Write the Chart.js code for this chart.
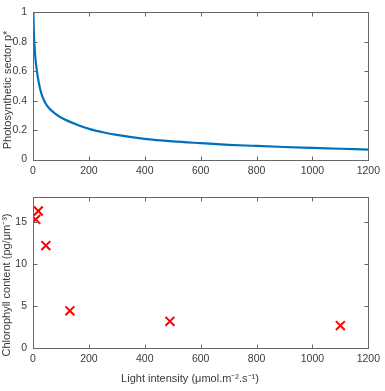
<!DOCTYPE html>
<html><head><meta charset="utf-8">
<script src="https://cdn.jsdelivr.net/npm/chart.js@4.4.1/dist/chart.umd.min.js"></script>
<style>
html,body{margin:0;padding:0;background:#fff;}
.wrap{position:absolute;left:0;top:0;width:385px;height:391px;}
canvas{position:absolute;left:0;top:0;}
</style></head>
<body>
<div class="wrap"><canvas id="c1" width="385" height="391"></canvas></div>
<div class="wrap"><canvas id="c2" width="385" height="391"></canvas></div>
<script>
// ---- data ----
const curveI = [1.5, 2.5, 4.6, 8, 14, 20, 26, 35, 50, 77, 100, 155, 210, 250, 300, 400, 500, 600, 700, 800, 900, 1000, 1100, 1200];
const curveP = [1.0, 0.9, 0.80, 0.70, 0.60, 0.53, 0.475, 0.42, 0.366, 0.315, 0.285, 0.238, 0.203, 0.185, 0.167, 0.14, 0.123, 0.111, 0.100, 0.092, 0.085, 0.079, 0.073, 0.067];
const lightI = [10, 19, 46, 132, 490, 1100];
const chlorophyll = [15.3, 16.3, 12.2, 4.45, 3.2, 2.7];
const xTicks = [0, 200, 400, 600, 800, 1000, 1200];
const yTicksTop = [0, 0.2, 0.4, 0.6, 0.8, 1];
const yTicksBottom = [0, 5, 10, 15];
const yTitleTop = 'Photosynthetic sector p*';
const yTitleBottom = 'Chlorophyll content (pg/\u03BCm\u207B\u00B3)';
const xTitle = 'Light intensity (\u03BCmol.m\u207B\u00B2.s\u207B\u00B9)';

const FONT = 'Liberation Sans, Arial, Helvetica, sans-serif';
const TXT = '#3a3a3a';

function boxPlugin(opts){
  return {
    id:'box',
    afterDraw(chart){
      const ctx = chart.ctx, a = chart.chartArea;
      const xs = chart.scales.x, ys = chart.scales.y;
      ctx.save();
      ctx.strokeStyle = '#666666';
      ctx.lineWidth = 1;
      const L = Math.round(a.left)+0.5, R = Math.round(a.right)+0.5, T = Math.round(a.top)+0.5, B = Math.round(a.bottom)+0.5;
      ctx.strokeRect(L, T, R-L, B-T);
      ctx.beginPath();
      const tl = 4;
      xs.ticks.forEach(t=>{
        const px = Math.round(xs.getPixelForValue(t.value))+0.5;
        ctx.moveTo(px,B); ctx.lineTo(px,B-tl);
        ctx.moveTo(px,T); ctx.lineTo(px,T+tl);
      });
      ys.ticks.forEach(t=>{
        const py = Math.round(ys.getPixelForValue(t.value))+0.5;
        ctx.moveTo(L,py); ctx.lineTo(L+tl,py);
        ctx.moveTo(R,py); ctx.lineTo(R-tl,py);
      });
      ctx.stroke();
      // titles
      ctx.fillStyle = TXT;
      ctx.font = '11px ' + FONT;
      ctx.textAlign = 'center';
      ctx.textBaseline = 'middle';
      ctx.save();
      ctx.translate(opts.yTitleX, opts.yTitleY);
      ctx.rotate(-Math.PI/2);
      ctx.fillText(opts.yTitle, 0, 0);
      ctx.restore();
      if (opts.xTitle){
        ctx.fillText(opts.xTitle, opts.xTitleX, opts.xTitleY);
      }
      ctx.restore();
    }
  };
}

function makeOptions(padTop, padBottom, yMin, yMax, yTicks){
  return {
    responsive:false, animation:false, devicePixelRatio:1,
    layout:{padding:{left:0,right:10,top:padTop,bottom:padBottom}},
    plugins:{legend:{display:false}, tooltip:{enabled:false}},
    scales:{
      x:{type:'linear', min:0, max:1200,
        afterBuildTicks(s){ s.ticks = xTicks.map(v=>({value:v})); },
        afterFit(s){ s.height = 20; },
        grid:{display:false, drawTicks:false}, border:{display:false},
        ticks:{padding:5, color:TXT, font:{family:FONT, size:10.5}, maxRotation:0, autoSkip:false,
          callback:(v)=>String(v)}
      },
      y:{type:'linear', min:yMin, max:yMax,
        afterBuildTicks(s){ s.ticks = yTicks.map(v=>({value:v})); },
        afterFit(s){ s.width = 33; },
        grid:{display:false, drawTicks:false}, border:{display:false},
        ticks:{padding:6, color:TXT, font:{family:FONT, size:10.5}, autoSkip:false,
          callback:(v)=>String(v)}
      }
    }
  };
}

new Chart(document.getElementById('c1'), {
  type:'scatter',
  data:{datasets:[{
    data: curveI.map((x,i)=>({x:x, y:curveP[i]})),
    showLine:true, borderColor:'#0072BD', borderWidth:2.2, pointRadius:0,
    cubicInterpolationMode:'monotone', fill:false
  }]},
  options: makeOptions(7.5, 391-159.5-20, 0, 1, yTicksTop),
  plugins:[boxPlugin({yTitle:yTitleTop, yTitleX:8, yTitleY:90})]
});

new Chart(document.getElementById('c2'), {
  type:'scatter',
  data:{datasets:[{
    data: lightI.map((x,i)=>({x:x, y:chlorophyll[i]})),
    showLine:false, pointStyle:'crossRot', pointRadius:6.3,
    borderColor:'#FF0000', backgroundColor:'#FF0000', pointBorderWidth:2
  }]},
  options: makeOptions(196.7, 391-348.3-20, 0, 18, yTicksBottom),
  plugins:[boxPlugin({yTitle:yTitleBottom, yTitleX:7, yTitleY:285, xTitle:xTitle, xTitleX:190, xTitleY:379})]
});
</script>
</body></html>
